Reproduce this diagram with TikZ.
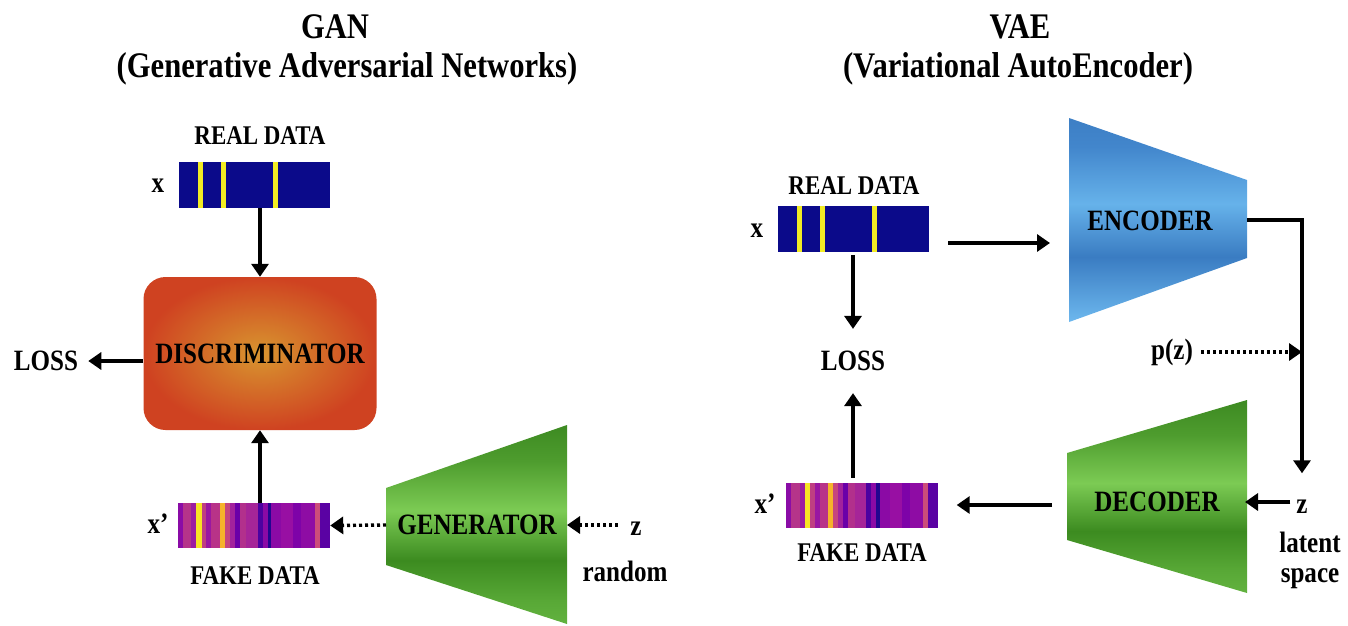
\documentclass[tikz,border=0pt]{standalone}
\usepackage{fontspec}
\setmainfont[FakeStretch=0.85]{Liberation Serif}
\usetikzlibrary{arrows.meta,calc}

% colours of the data strips
\definecolor{navy}{HTML}{0B0A8A}
\definecolor{stripeyellow}{HTML}{F2EC24}
\definecolor{fA}{HTML}{8A0CA6}
\definecolor{fB}{HTML}{B5348A}
\definecolor{fC}{HTML}{9C1DA0}
\definecolor{fD}{HTML}{F7E425}
\definecolor{fE}{HTML}{BF3F82}
\definecolor{fF}{HTML}{9A17A2}
\definecolor{fG}{HTML}{B83388}
\definecolor{fH}{HTML}{F6B32A}
\definecolor{fI}{HTML}{C6457E}
\definecolor{fJ}{HTML}{A2229C}
\definecolor{fK}{HTML}{6A00A8}
\definecolor{fL}{HTML}{B2308C}
\definecolor{fM}{HTML}{A62598}
\definecolor{fN}{HTML}{4C02A1}
\definecolor{fO}{HTML}{8B0AA5}
\definecolor{fP}{HTML}{220690}
\definecolor{fQ}{HTML}{980FA3}
\definecolor{fR}{HTML}{7E03A8}
\definecolor{fS}{HTML}{8E0CA4}
\definecolor{fT}{HTML}{CC4C7A}
\definecolor{fU}{HTML}{5A02A3}

% network block colours
\definecolor{discin}{HTML}{D8952F}
\definecolor{discout}{HTML}{CF4221}

\pgfdeclareverticalshading{greenblock}{100bp}{%
  color(0bp)=({rgb,255:red,98;green,178;blue,63});
  color(25bp)=({rgb,255:red,98;green,178;blue,63});
  color(31bp)=({rgb,255:red,88;green,168;blue,54});
  color(41bp)=({rgb,255:red,60;green,139;blue,32});
  color(53.5bp)=({rgb,255:red,124;green,203;blue,84});
  color(66bp)=({rgb,255:red,78;green,156;blue,46});
  color(75bp)=({rgb,255:red,61;green,138;blue,34});
  color(100bp)=({rgb,255:red,61;green,138;blue,34})}

\pgfdeclareverticalshading{blueblock}{100bp}{%
  color(0bp)=({rgb,255:red,109;green,184;blue,238});
  color(25bp)=({rgb,255:red,109;green,184;blue,238});
  color(41bp)=({rgb,255:red,58;green,124;blue,194});
  color(54bp)=({rgb,255:red,102;green,178;blue,234});
  color(68bp)=({rgb,255:red,66;green,134;blue,204});
  color(75bp)=({rgb,255:red,61;green,127;blue,197});
  color(100bp)=({rgb,255:red,61;green,127;blue,197})}

\tikzset{
  titletext/.style={font=\fontsize{36}{39}\selectfont\bfseries, anchor=base, inner sep=0pt},
  lab/.style={font=\fontsize{29.5}{32}\selectfont\bfseries, inner sep=0pt},
  datalab/.style={font=\fontsize{27}{30}\selectfont\bfseries, anchor=base, inner sep=0pt},
  arr/.style={line width=3.6pt, -{Triangle[length=13pt,width=17pt]}},
  dotarr/.style={line width=3.4pt, dash pattern=on 3pt off 3pt,
                 -{Triangle[length=13pt,width=17pt]}},
  realbar/.style={minimum width=151pt, minimum height=46pt, inner sep=0pt, fill=navy},
  fakebar/.style={minimum width=152pt, minimum height=45pt, inner sep=0pt},
}

% yellow stripes over a real-data strip
\newcommand\realstripes[1]{%
  \begin{scope}[shift={(#1.north west)}]
    \foreach \a/\b in {19.5/24, 42.5/47.5, 94.5/99}
      \fill[stripeyellow] (\a,0) rectangle (\b,46);
  \end{scope}}

% coloured columns of a generated strip
\newcommand\fakestripes[1]{%
  \begin{scope}[shift={(#1.north west)}]
    \foreach \a/\b/\c in {0/5/fA, 5/13.4/fB, 13.4/18.4/fC, 18.4/24/fD,
        24/28.4/fE, 28.4/33.4/fF, 33.4/41.8/fG, 41.8/46.8/fH, 46.8/51.8/fI,
        51.8/56.8/fJ, 56.8/61.9/fK, 61.9/68.6/fL, 68.6/80.1/fM, 80.1/85.1/fN,
        85.1/90.1/fO, 90.1/93.5/fP, 93.5/103.5/fO, 103.5/115.2/fQ,
        115.2/123.6/fR, 123.6/137/fS, 137/142/fT, 142/152/fU}
      \fill[\c] (\a,0) rectangle ({min(\b+0.3,152)},45);
  \end{scope}}

\begin{document}
\begin{tikzpicture}[x=1pt, y=-1pt]
\useasboundingbox (0,0) rectangle (1348,625);

% ---------------- GAN ----------------
\node[titletext] (gan-t1) at (335,38) {GAN};
\node[titletext] (gan-t2) at (347,77) {(Generative Adversarial Networks)};

\node[datalab] (greal-lab) at (260,144) {REAL DATA};
\node[realbar] (greal) at (254.5,185) {};
\realstripes{greal}
\node[lab, anchor=base] (gx) at (158,192) {x};

\node[lab, rounded corners=22pt, minimum width=233pt, minimum height=153pt,
      inner color=discin, outer color=discout] (disc) at (260,353.5) {DISCRIMINATOR};
\node[lab] (gloss) at (46,361) {LOSS};

\node[fakebar] (gfake) at (254,525.5) {};
\fakestripes{gfake}
\node[lab, anchor=base] (gxp) at (158,533) {x’};
\node[datalab] (gfake-lab) at (255,584) {FAKE DATA};

% generator block
\shade[shading=greenblock] (386,488) -- (567,425) -- (567,624) -- (386,565) -- cycle;
\node[lab] (gen) at (477,525) {GENERATOR};
\coordinate (gen-in) at (567,525);
\coordinate (gen-out) at (386,525);
\node[lab, anchor=base] (gz) at (636,535) {z};
\node[lab, anchor=base] (grand) at (625,581) {random};

\draw[arr] (greal.south -| disc.north) -- (disc.north);
\draw[arr] (disc.west |- gloss) -- ([xshift=10pt]gloss.east);
\draw[arr] (gfake.north -| disc.south) -- (disc.south);
\draw[dotarr] (gen-out) -- (gfake.east);
\draw[dotarr] ([xshift=-12pt]gz.west |- gen-in) -- (gen-in);

% ---------------- VAE ----------------
\node[titletext] (vae-t1) at (1020,38) {VAE};
\node[titletext] (vae-t2) at (1018,77) {(Variational AutoEncoder)};

\node[datalab] (vreal-lab) at (854,194) {REAL DATA};
\node[realbar] (vreal) at (853.5,229) {};
\realstripes{vreal}
\node[lab, anchor=base] (vx) at (757,237) {x};

% encoder block
\shade[shading=blueblock] (1069,118) -- (1247,180) -- (1247,258) -- (1069,322) -- cycle;
\node[lab] (enc) at (1150,221) {ENCODER};
\coordinate (enc-in) at (1050,243);
\coordinate (enc-out) at (1247,220);

% decoder block
\shade[shading=greenblock] (1067,453) -- (1247,400) -- (1247,593) -- (1067,540) -- cycle;
\node[lab] (dec) at (1157,502) {DECODER};
\coordinate (dec-in) at (1245,502);
\coordinate (dec-out) at (1052,505);

\node[lab, anchor=base] (vz) at (1302,513) {z};
\node[lab, anchor=base] (vlat) at (1310,552) {latent};
\node[lab, anchor=base] (vspace) at (1310,582) {space};
\node[lab] (pz) at (1172,352) {p(z)};

\node[fakebar] (vfake) at (862.5,505.5) {};
\fakestripes{vfake}
\node[lab, anchor=base] (vxp) at (765,513) {x’};
\node[datalab] (vfake-lab) at (862,561) {FAKE DATA};
\node[lab] (vloss) at (853,361) {LOSS};

\draw[arr] ([xshift=19pt]vreal.east |- enc-in) -- (enc-in);
\draw[arr] (enc-out) -| ([yshift=26pt]vz.north);
\draw[dotarr] ([xshift=8pt]pz.east) -- (pz.east -| vz.north);
\draw[arr] ([xshift=-6pt]vz.west |- dec-in) -- (dec-in);
\draw[arr] (dec-out) -- ([xshift=18pt]vfake.east |- dec-out);
\draw[arr] ([yshift=-3pt]vreal.south -| vloss) -- ([yshift=22pt]vloss.north);
\draw[arr] ([yshift=5pt]vfake.north -| vloss) -- ([yshift=-22pt]vloss.south);
\end{tikzpicture}
\end{document}
